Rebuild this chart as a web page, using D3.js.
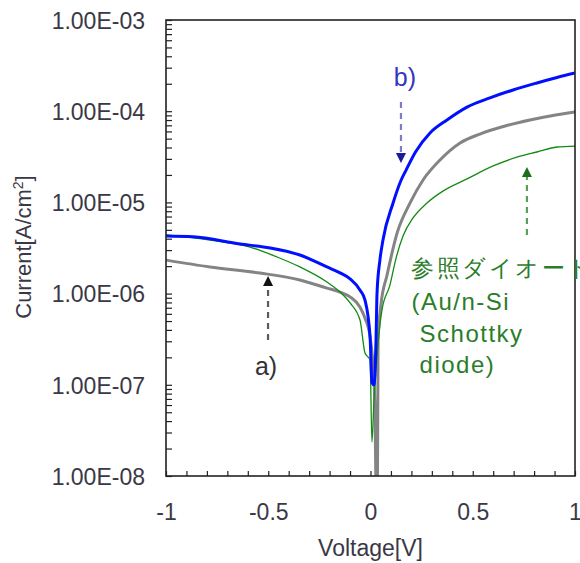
<!DOCTYPE html>
<html><head><meta charset="utf-8">
<script src="https://cdn.jsdelivr.net/npm/d3@7"></script>
<style>
html,body{margin:0;padding:0;background:#fff;}
svg{display:block;}
text{font-family:"Liberation Sans",Arial,sans-serif;}
</style></head>
<body><svg id="chart" width="580" height="563"></svg>
<script>
// ---- data ----
const voltageA = [-1, -0.785, -0.540, -0.345, -0.213, -0.149, -0.100, -0.051, -0.027, -0.002, 0.017, 0.022, 0.027, 0.034, 0.037, 0.051, 0.081, 0.130, 0.193, 0.257, 0.340, 0.438, 0.535, 0.667, 0.780, 0.892, 1.0];
const currentA = [2.33e-6, 1.96e-6, 1.68e-6, 1.41e-6, 1.15e-6, 1.04e-6, 9.2e-7, 7.1e-7, 5.4e-7, 3.34e-7, 1.13e-7, 5e-8, 9e-9, 9e-9, 3.1e-7, 7.5e-7, 1.6e-6, 4.6e-6, 9.8e-6, 1.76e-5, 2.92e-5, 4.48e-5, 5.62e-5, 6.97e-5, 8.02e-5, 8.97e-5, 9.8e-5];

const voltageB = [-1, -0.868, -0.638, -0.491, -0.345, -0.213, -0.149, -0.100, -0.051, -0.027, -0.002, 0.007, 0.017, 0.027, 0.032, 0.046, 0.061, 0.110, 0.150, 0.174, 0.220, 0.291, 0.374, 0.472, 0.584, 0.697, 0.814, 0.912, 1.0];
const currentB = [4.28e-6, 4.2e-6, 3.5e-6, 3.17e-6, 2.65e-6, 1.96e-6, 1.69e-6, 1.45e-6, 1.09e-6, 8.5e-7, 3.34e-7, 1.05e-7, 1.0e-7, 3.1e-7, 1.02e-6, 2.33e-6, 3.87e-6, 9.8e-6, 1.76e-5, 2.26e-5, 3.57e-5, 5.77e-5, 8.02e-5, 1.11e-4, 1.40e-4, 1.71e-4, 2.04e-4, 2.34e-4, 2.62e-4];

const voltageRef = [-1, -0.785, -0.589, -0.457, -0.345, -0.213, -0.149, -0.100, -0.051, -0.027, -0.002, 0.007, 0.017, 0.037, 0.056, 0.095, 0.125, 0.159, 0.208, 0.276, 0.354, 0.472, 0.600, 0.720, 0.814, 0.912, 1.0];
const currentRef = [4.4e-6, 3.87e-6, 3.24e-6, 2.52e-6, 1.96e-6, 1.34e-6, 1.04e-6, 7.9e-7, 5.1e-7, 2.23e-7, 1.87e-7, 2.36e-8, 6.8e-8, 2.87e-7, 6.6e-7, 1.24e-6, 2.45e-6, 4.28e-6, 6.75e-6, 9.84e-6, 1.33e-5, 1.81e-5, 2.51e-5, 3.15e-5, 3.57e-5, 4.05e-5, 4.15e-5];

const yTickValues = [1e-3, 1e-4, 1e-5, 1e-6, 1e-7, 1e-8];
const yTickLabels = ["1.00E-03", "1.00E-04", "1.00E-05", "1.00E-06", "1.00E-07", "1.00E-08"];
const xTickValues = [-1, -0.5, 0, 0.5, 1];
const xTickLabels = ["-1", "-0.5", "0", "0.5", "1"];

const xTitle = "Voltage[V]";
const yTitle = "Current[A/cm";
const refLabel = ["参照ダイオード", "(Au/n-Si", " Schottky", " diode)"];

// ---- layout ----
const svg = d3.select("#chart");
const L = 166, R = 575, T = 20, B = 476;
const x = d3.scaleLinear().domain([-1, 1]).range([L, R]);
const y = d3.scaleLog().domain([1e-8, 1e-3]).range([B, T]);

svg.append("defs").append("clipPath").attr("id", "clip")
  .append("rect").attr("x", L).attr("y", T).attr("width", R - L).attr("height", B - T);

// y axis
const yMinor = [];
for (let e = -8; e < -3; e++) for (let m = 1; m <= 9; m++) yMinor.push(m * Math.pow(10, e));
yMinor.push(1e-3);
const yAxis = d3.axisLeft(y).tickValues(yMinor).tickSizeInner(-6).tickSizeOuter(0).tickPadding(21)
  .tickFormat(d => { const i = yTickValues.findIndex(v => Math.abs(v - d) / v < 1e-6); return i >= 0 ? yTickLabels[i] : ""; });
const gy = svg.append("g").attr("transform", `translate(${L},0)`).call(yAxis);
gy.select(".domain").remove();
gy.selectAll("line").attr("stroke", "#222").attr("stroke-width", 1.2);
gy.selectAll("text").attr("font-size", 23).attr("fill", "#3a3845").attr("dy", "0.36em");

// x axis
const xMinor = d3.range(-10, 11).map(i => i / 10);
const xAxis = d3.axisBottom(x).tickValues(xMinor).tickSizeInner(-5).tickSizeOuter(0).tickPadding(28)
  .tickFormat(d => { const i = xTickValues.findIndex(v => Math.abs(v - d) < 1e-9); return i >= 0 ? xTickLabels[i] : ""; });
const gx = svg.append("g").attr("transform", `translate(0,${B})`).call(xAxis);
gx.select(".domain").remove();
gx.selectAll("line").attr("stroke", "#222").attr("stroke-width", 1.2);
gx.selectAll("text").attr("font-size", 23).attr("fill", "#3a3845");

// curves
const line = d3.line().x(d => x(d[0])).y(d => y(d[1])).curve(d3.curveMonotoneX);
const plot = svg.append("g").attr("clip-path", "url(#clip)");
const series = [
  { v: voltageA, c: currentA, color: "#848484", w: 3 },
  { v: voltageRef, c: currentRef, color: "#138a13", w: 1.3 },
  { v: voltageB, c: currentB, color: "#0010ff", w: 3 }
];
series.forEach(s => {
  plot.append("path").datum(s.v.map((v, i) => [v, s.c[i]]))
    .attr("d", line).attr("fill", "none").attr("stroke", s.color)
    .attr("stroke-width", s.w).attr("stroke-linejoin", "round");
});

// frame
svg.append("rect").attr("x", L).attr("y", T).attr("width", R - L).attr("height", B - T)
  .attr("fill", "none").attr("stroke", "#222").attr("stroke-width", 1.6);

// annotations (anchored through the scales)
function arrow(v, fromI, toI, dashColor, headColor) {
  const ax = x(v), y0 = y(fromI), y1 = y(toI);
  const dir = y1 > y0 ? 1 : -1;
  svg.append("line").attr("x1", ax).attr("x2", ax).attr("y1", y0).attr("y2", y1 - dir * 9)
    .attr("stroke", dashColor).attr("stroke-width", 2.2).attr("stroke-dasharray", "6,5");
  svg.append("path")
    .attr("d", `M${ax - 5},${y1 - dir * 10} L${ax + 5},${y1 - dir * 10} L${ax},${y1} Z`)
    .attr("fill", headColor);
}
arrow(-0.501, 3.1e-7, 1.56e-6, "#5a5a5a", "#111");
arrow(0.149, 1.26e-4, 2.7e-5, "#7c7cc8", "#1a1a9a");
arrow(0.765, 4.4e-6, 2.44e-5, "#5a9e5a", "#1e6e1e");

svg.append("text").attr("x", x(-0.511)).attr("y", y(3.1e-7) + 35)
  .attr("text-anchor", "middle").attr("font-size", 25).attr("fill", "#333").text("a)");
svg.append("text").attr("x", x(0.149) + 4).attr("y", y(1.26e-4) - 16)
  .attr("text-anchor", "middle").attr("font-size", 25).attr("fill", "#3434c4").text("b)");

const refX = x(0.20);
const refBase = [276, 310, 342, 373];
refLabel.forEach((t, i) => {
  svg.append("text").attr("x", refX).attr("y", refBase[i])
    .attr("font-size", i === 0 ? 23 : 24)
    .attr("letter-spacing", i === 0 ? 2.5 : 1.5)
    .attr("font-family", i === 0 ? "'Noto Sans CJK JP',sans-serif" : "'Liberation Sans',Arial,sans-serif")
    .attr("fill", "#2a7d2a").attr("xml:space", "preserve").style("white-space", "pre").text(t);
});

// axis titles
svg.append("text").attr("x", (L + R) / 2).attr("y", 556).attr("text-anchor", "middle")
  .attr("font-size", 23).attr("fill", "#3a3845").text(xTitle);
const yt = svg.append("text").attr("transform", "translate(31,247) rotate(-90)")
  .attr("text-anchor", "middle").attr("font-size", 22).attr("fill", "#3a3845");
yt.append("tspan").text(yTitle);
yt.append("tspan").attr("font-size", 14).attr("dy", "-0.6em").text("2");
yt.append("tspan").attr("dy", "0.4em").text("]");
</script></body></html>
